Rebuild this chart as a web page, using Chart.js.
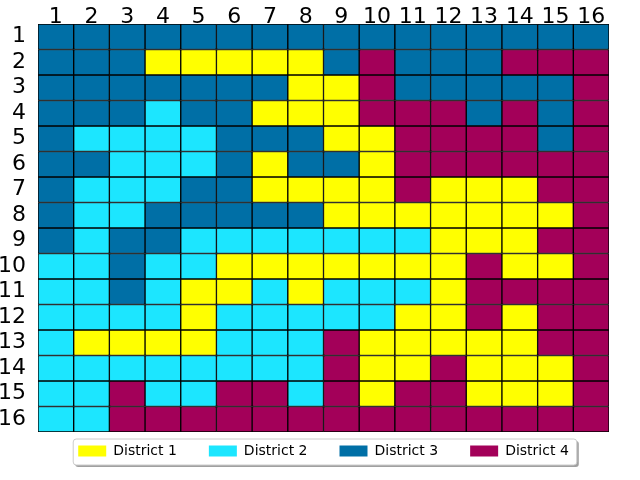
<!DOCTYPE html>
<html><head><meta charset="utf-8">
<script src="https://cdn.jsdelivr.net/npm/chart.js@4"></script>
<style>html,body{margin:0;padding:0;background:#fff}#wrap{width:640px;height:480px;position:relative}</style>
</head><body><div id="wrap"><canvas id="c"></canvas></div>
<script>
const columnLabels = ['1','2','3','4','5','6','7','8','9','10','11','12','13','14','15','16'];
const rowLabels = ['1','2','3','4','5','6','7','8','9','10','11','12','13','14','15','16'];
const districtNames = ['District 1','District 2','District 3','District 4'];
const districtColors = ['#FFFF00','#1CE6FF','#006FA6','#A30059'];
// district number of every cell, one array per row (row 1 at top)
const districtGrid = [
  [3,3,3,3,3,3,3,3,3,3,3,3,3,3,3,3],
  [3,3,3,1,1,1,1,1,3,4,3,3,3,4,4,4],
  [3,3,3,3,3,3,3,1,1,4,3,3,3,3,3,4],
  [3,3,3,2,3,3,1,1,1,4,4,4,3,4,3,4],
  [3,2,2,2,2,3,3,3,1,1,4,4,4,4,3,4],
  [3,3,2,2,2,3,1,3,3,1,4,4,4,4,4,4],
  [3,2,2,2,3,3,1,1,1,1,4,1,1,1,4,4],
  [3,2,2,3,3,3,3,3,1,1,1,1,1,1,1,4],
  [3,2,3,3,2,2,2,2,2,2,2,1,1,1,4,4],
  [2,2,3,2,2,1,1,1,1,1,1,1,4,1,1,4],
  [2,2,3,2,1,1,2,1,2,2,2,1,4,4,4,4],
  [2,2,2,2,1,2,2,2,2,2,1,1,4,1,4,4],
  [2,1,1,1,1,2,2,2,4,1,1,1,1,1,4,4],
  [2,2,2,2,2,2,2,2,4,1,1,4,1,1,1,4],
  [2,2,4,2,2,4,4,2,4,1,4,4,1,1,1,4],
  [2,2,4,4,4,4,4,4,4,4,4,4,4,4,4,4]
];
const cellUnit = 1;

const FONT = 'DejaVu Sans';

const legendShift = {
  id: 'legendShift',
  afterLayout(chart) {
    const lg = chart.legend;
    if (!lg) return;
    lg.top -= 20; lg.bottom -= 20;
  },
  beforeDraw(chart) {
    const lg = chart.legend;
    if (!lg || !lg.legendHitBoxes || !lg.legendHitBoxes.length) return;
    const hb = lg.legendHitBoxes;
    const left = hb[0].left - 5;
    const right = hb[hb.length - 1].left + hb[hb.length - 1].width + 8;
    const top = hb[0].top - 5;
    const h = 26;
    const ctx = chart.ctx;
    ctx.save();
    const rr = (x, y, w, hh, r) => {
      ctx.beginPath();
      ctx.moveTo(x + r, y);
      ctx.lineTo(x + w - r, y); ctx.quadraticCurveTo(x + w, y, x + w, y + r);
      ctx.lineTo(x + w, y + hh - r); ctx.quadraticCurveTo(x + w, y + hh, x + w - r, y + hh);
      ctx.lineTo(x + r, y + hh); ctx.quadraticCurveTo(x, y + hh, x, y + hh - r);
      ctx.lineTo(x, y + r); ctx.quadraticCurveTo(x, y, x + r, y);
      ctx.closePath();
    };
    rr(left + 2, top + 2, right - left, h, 3);
    ctx.fillStyle = '#a0a0a0'; ctx.fill();
    rr(left, top, right - left, h, 3);
    ctx.fillStyle = '#ffffff'; ctx.fill();
    ctx.strokeStyle = '#cccccc'; ctx.lineWidth = 1; ctx.stroke();
    ctx.restore();
  }
};

const datasets = districtGrid.map((row, r) => ({
  label: 'Row ' + rowLabels[r],
  data: columnLabels.map(() => cellUnit),
  backgroundColor: row.map(d => districtColors[d - 1]),
  borderColor: '#000000',
  borderWidth: 1,
  borderSkipped: false,
  barPercentage: 1,
  categoryPercentage: 1,
  xAxisID: 'x',
  yAxisID: 'y'
}));

new Chart(document.getElementById('c'), {
  type: 'bar',
  data: { labels: columnLabels, datasets },
  plugins: [legendShift],
  options: {
    responsive: true,
    maintainAspectRatio: false,
    animation: false,
    events: [],
    layout: { padding: { left: 0, right: 31, top: 0, bottom: 0 } },
    scales: {
      x: {
        type: 'category',
        position: 'top',
        stacked: true,
        offset: true,
        grid: { display: false },
        border: { display: false },
        ticks: { color: '#000', font: { family: FONT, size: 22, lineHeight: 1 }, padding: -12, autoSkip: false, maxRotation: 0 },
        afterFit(s) { s.height = 24; }
      },
      y: {
        type: 'linear',
        stacked: true,
        min: 0, max: 16,
        reverse: true,
        display: false
      },
      rows: {
        type: 'category',
        labels: rowLabels,
        position: 'left',
        offset: true,
        grid: { display: false },
        border: { display: false },
        ticks: { color: '#000', font: { family: FONT, size: 22 }, padding: 4, autoSkip: false },
        afterFit(s) { s.width = 38; }
      }
    },
    plugins: {
      tooltip: { enabled: false },
      legend: {
        display: true,
        position: 'bottom',
        fullSize: false,
        maxHeight: 48,
        labels: {
          boxWidth: 28,
          boxHeight: 11,
          padding: 32,
          color: '#000',
          font: { family: FONT, size: 14 },
          generateLabels: () => districtNames.map((n, i) => ({
            text: n, fillStyle: districtColors[i], strokeStyle: districtColors[i], lineWidth: 0, hidden: false
          }))
        }
      }
    }
  }
});
</script></body></html>
